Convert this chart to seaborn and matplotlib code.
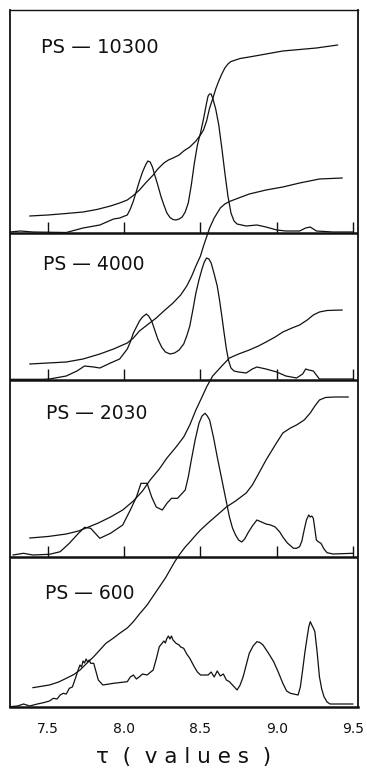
import numpy as np
import pandas as pd
import matplotlib
matplotlib.use("Agg")
import matplotlib.pyplot as plt
from matplotlib.ticker import FixedLocator, FormatStrFormatter
import seaborn as sns

# traces
# heights are in pixel-ish units above each panel's own baseline
tau_10300 = [7.25, 7.32, 7.40, 7.62, 7.73, 7.84, 7.93, 7.97, 8.02, 8.04, 8.06, 8.08, 8.10, 8.12,
             8.14, 8.155, 8.17, 8.185, 8.20, 8.22, 8.24, 8.26, 8.28, 8.30, 8.32, 8.34, 8.36, 8.38,
             8.40, 8.42, 8.44, 8.46, 8.48, 8.50, 8.52, 8.54, 8.55, 8.56, 8.57, 8.58, 8.60, 8.62,
             8.64, 8.66, 8.68, 8.70, 8.72, 8.74, 8.80, 8.87, 8.93, 9.00, 9.06, 9.15, 9.19, 9.22,
             9.26, 9.37, 9.50]
spec_10300 = [1, 2, 1, 0.5, 5, 8, 14, 15, 18, 24, 32, 42, 52, 61,
              68, 72, 71, 66, 58, 48, 37, 28, 20, 15.5, 13.5, 13, 14, 16,
              21, 30, 48, 70, 88, 100, 114, 130, 137, 139, 139, 135, 124, 108,
              85, 60, 37, 20, 12, 9, 7, 8, 6, 3, 2, 2, 5, 6,
              2, 1, 1]
tau_int_10300 = [7.38, 7.50, 7.62, 7.73, 7.82, 7.91, 7.97, 8.02, 8.06, 8.10, 8.14, 8.19, 8.22,
                 8.26, 8.29, 8.32, 8.36, 8.39, 8.43, 8.47, 8.50, 8.52, 8.54, 8.56, 8.58, 8.60,
                 8.62, 8.64, 8.66, 8.68, 8.70, 8.73, 8.76, 8.82, 8.93, 9.04, 9.15, 9.26, 9.33, 9.40]
int_10300 = [17, 18, 19.5, 21, 23.5, 27, 30, 33, 37.5, 43, 50, 58, 64,
             70, 73, 75, 78, 82, 86, 92, 98, 103, 112, 125, 134, 144,
             152, 159, 165, 169, 171.5, 173, 174.5, 176, 179, 182, 183.5, 185, 186.5, 188]

tau_4000 = [7.25, 7.47, 7.51, 7.62, 7.69, 7.74, 7.80, 7.84, 7.91, 7.97, 8.02, 8.04, 8.06, 8.08,
            8.10, 8.12, 8.145, 8.16, 8.18, 8.20, 8.22, 8.245, 8.27, 8.30, 8.33, 8.36, 8.39, 8.41,
            8.43, 8.45, 8.47, 8.49, 8.51, 8.525, 8.54, 8.555, 8.57, 8.59, 8.61, 8.625, 8.64, 8.655,
            8.67, 8.685, 8.70, 8.72, 8.75, 8.80, 8.84, 8.87, 8.93, 9.00, 9.06, 9.13, 9.17, 9.19,
            9.21, 9.24, 9.28, 9.50]
spec_4000 = [0.7, 0.7, 1, 4, 9, 14, 13, 12, 17, 21, 31, 38, 47, 53,
             59, 63, 66, 64, 59, 50, 41, 33, 28, 26, 27, 30, 36, 44,
             54, 70, 87, 100, 111, 118, 122, 121, 117, 106, 94, 80, 64, 47,
             31, 19, 12, 9, 8, 7, 11, 13, 11, 8, 4, 2, 6, 11,
             10, 9, 1, 1]
tau_int_4000 = [7.38, 7.50, 7.62, 7.73, 7.84, 7.93, 8.02, 8.06, 8.10, 8.15, 8.21, 8.26, 8.32,
                8.37, 8.41, 8.44, 8.47, 8.50, 8.52, 8.54, 8.56, 8.59, 8.63, 8.66, 8.69, 8.75,
                8.82, 8.93, 9.04, 9.15, 9.28, 9.43]
int_4000 = [16, 17, 18, 21, 26, 31, 37, 42, 49, 55, 62, 69, 77,
            85, 94, 103, 114, 124, 134, 143, 152, 162, 172, 176, 178.5, 182,
            186, 190, 193, 197, 201, 202]

tau_2030 = [7.27, 7.34, 7.40, 7.51, 7.58, 7.64, 7.70, 7.74, 7.78, 7.84, 7.91, 7.99, 8.04, 8.08,
            8.11, 8.15, 8.18, 8.21, 8.25, 8.28, 8.31, 8.35, 8.40, 8.42, 8.44, 8.465, 8.49, 8.51,
            8.53, 8.545, 8.56, 8.585, 8.61, 8.63, 8.65, 8.67, 8.69, 8.71, 8.73, 8.75, 8.77, 8.79,
            8.81, 8.84, 8.87, 8.90, 8.93, 8.96, 8.99, 9.02, 9.04, 9.07, 9.11, 9.13, 9.15, 9.165,
            9.18, 9.195, 9.21, 9.22, 9.23, 9.24, 9.25, 9.26, 9.275, 9.29, 9.31, 9.33, 9.37, 9.50]
spec_2030 = [2, 3.7, 2, 2.7, 5.3, 13.7, 23.7, 29.7, 28.7, 18.7, 23.7, 32, 47, 60,
             73.7, 73.7, 60, 50, 47, 53.7, 58.7, 58.7, 67, 80, 97, 117, 133.7, 141,
             143.7, 141, 137, 120, 100, 85, 70, 55, 40, 29, 22, 17, 15, 18,
             23.7, 31, 37, 35, 33, 32, 30, 25, 20, 14, 8.7, 8.7, 10.3, 16,
             27, 37, 42, 40, 41, 38.7, 28, 17, 15, 13.7, 8, 4.3, 3, 3.7]
tau_int_2030 = [7.38, 7.50, 7.62, 7.70, 7.75, 7.83, 7.91, 7.99, 8.06, 8.12, 8.17, 8.23, 8.28,
                8.34, 8.39, 8.43, 8.47, 8.51, 8.54, 8.58, 8.61, 8.64, 8.69, 8.75, 8.82, 8.88,
                8.93, 8.99, 9.04, 9.10, 9.15, 9.20, 9.24, 9.28, 9.33, 9.43]
int_2030 = [19, 20.5, 23, 26, 29, 34, 40, 47, 56, 66, 77, 88, 99,
            110, 120, 132, 147, 160, 170, 181, 186, 191, 199, 203, 207, 211,
            215, 220, 225, 229, 232, 237, 242, 245, 246.5, 247]

tau_600 = [7.25, 7.30, 7.34, 7.38, 7.43, 7.47, 7.51, 7.535, 7.56, 7.58, 7.60, 7.62, 7.64, 7.66,
           7.68, 7.70, 7.71, 7.72, 7.73, 7.74, 7.75, 7.76, 7.77, 7.78, 7.80, 7.83, 7.86, 7.93,
           8.02, 8.04, 8.06, 8.08, 8.10, 8.12, 8.15, 8.19, 8.21, 8.23, 8.25, 8.26, 8.27, 8.28,
           8.29, 8.30, 8.31, 8.32, 8.34, 8.36, 8.37, 8.39, 8.41, 8.43, 8.46, 8.48, 8.50, 8.55,
           8.57, 8.59, 8.61, 8.63, 8.65, 8.67, 8.69, 8.74, 8.76, 8.78, 8.80, 8.82, 8.845, 8.87,
           8.89, 8.91, 8.945, 8.98, 9.01, 9.04, 9.065, 9.09, 9.14, 9.155, 9.17, 9.185, 9.20, 9.21,
           9.22, 9.23, 9.24, 9.25, 9.265, 9.28, 9.295, 9.31, 9.33, 9.35, 9.50]
spec_600 = [0.3, 1, 3, 1, 3, 4.3, 6, 8.7, 8, 12, 13.7, 13, 18.7, 20,
            28.7, 38, 42, 40, 46, 44, 48, 45, 47, 43.7, 43.7, 27, 22, 23.7,
            25.3, 30, 32, 28, 30.3, 33, 32, 37, 48, 60.3, 64, 66, 64, 68.7,
            71, 68, 71, 67, 63.7, 62, 60, 58.7, 53, 48.7, 40, 35, 32, 32,
            35, 30, 36, 31, 33, 27, 25.3, 17, 22, 30.3, 42, 53.7, 61, 65.3,
            64.5, 62, 54, 45.3, 35, 23.7, 16, 13.7, 12, 20, 37, 55, 70.3, 80,
            85.3, 82, 79, 75.3, 55, 30.3, 18, 10.3, 5, 3, 3]
tau_int_600 = [7.40, 7.51, 7.57, 7.62, 7.67, 7.71, 7.75, 7.80, 7.84, 7.88, 7.93, 7.97, 8.02,
               8.06, 8.10, 8.15, 8.19, 8.23, 8.27, 8.30, 8.33, 8.365, 8.40, 8.43, 8.47, 8.50,
               8.55, 8.61, 8.67, 8.73, 8.80, 8.84, 8.88, 8.93, 8.99, 9.04, 9.09, 9.13, 9.18,
               9.22, 9.25, 9.28, 9.32, 9.38, 9.47]
int_600 = [19.3, 22, 25, 28.7, 32.5, 37, 43, 50.3, 57, 63.7, 69, 73.7, 79,
           85.3, 93, 102, 111, 120, 129, 137, 145, 153, 160, 165, 172, 177,
           184, 192, 200, 206, 214, 222, 233, 247, 262, 274, 279, 282, 287,
           294, 301, 307, 309.5, 310, 310]

names = ["PS \u2014 10300", "PS \u2014 4000", "PS \u2014 2030", "PS \u2014 600"]
spectra = [(tau_10300, spec_10300), (tau_4000, spec_4000), (tau_2030, spec_2030), (tau_600, spec_600)]
integrals = [(tau_int_10300, int_10300), (tau_int_4000, int_4000),
             (tau_int_2030, int_2030), (tau_int_600, int_600)]

major_ticks = [7.5, 8.0, 8.5, 9.0, 9.5]
minor_ticks = np.round(np.arange(7.5, 9.55, 0.1), 1)

# layout of the stacked panels (offset of each baseline, label placement)
baselines = [474, 327, 150, 0]
label_pos = [(7.455, 653.7, 14), (7.467, 437, 13.5), (7.487, 287.7, 13.5), (7.48, 107.7, 13.5)]

sns.set_style("white")
plt.rcParams['font.family'] = ['DejaVu Sans']

fig = plt.figure(figsize=(3.67, 7.8), dpi=100)
ax = fig.add_axes([10 / 367, 73 / 780, 348 / 367, 697 / 780])

line_col = "#111111"
for name, base, (t, s), (ti, it), (lx, ly, fs) in zip(names, baselines, spectra, integrals, label_pos):
    df = pd.DataFrame({"tau": t, "h": np.array(s) + base})
    sns.lineplot(data=df, x="tau", y="h", ax=ax, color=line_col, lw=0.9, estimator=None)
    di = pd.DataFrame({"tau": ti, "h": np.array(it) + base})
    sns.lineplot(data=di, x="tau", y="h", ax=ax, color=line_col, lw=0.9, estimator=None)
    ax.text(lx, ly, name, fontsize=fs, ha="left", va="baseline", color=line_col)
    if base > 0:
        # panel separator and its inward ticks
        ax.axhline(base, color=line_col, lw=1.8)
        ax.vlines(major_ticks, base, base + 11, color=line_col, lw=1)

ax.set_xlim(7.251, 9.533)
ax.set_ylim(0, 697)
ax.set_yticks([])
ax.set_ylabel("")
ax.xaxis.set_major_locator(FixedLocator(major_ticks))
ax.xaxis.set_minor_locator(FixedLocator(minor_ticks))
ax.xaxis.set_major_formatter(FormatStrFormatter('%.1f'))
ax.tick_params(axis='x', which='major', direction='in', length=11, width=1, pad=11,
               labelsize=10, colors=line_col)
ax.tick_params(axis='x', which='minor', direction='in', length=7, width=0.9)
ax.set_xlabel("\u03c4  (  v a l u e s  )", fontsize=15.5, labelpad=8, color=line_col)

for side, w in [("left", 1.3), ("right", 1.3), ("top", 1.0), ("bottom", 1.8)]:
    ax.spines[side].set_visible(True)
    ax.spines[side].set_linewidth(w)
    ax.spines[side].set_color(line_col)

fig.savefig("out.png", dpi=100)
